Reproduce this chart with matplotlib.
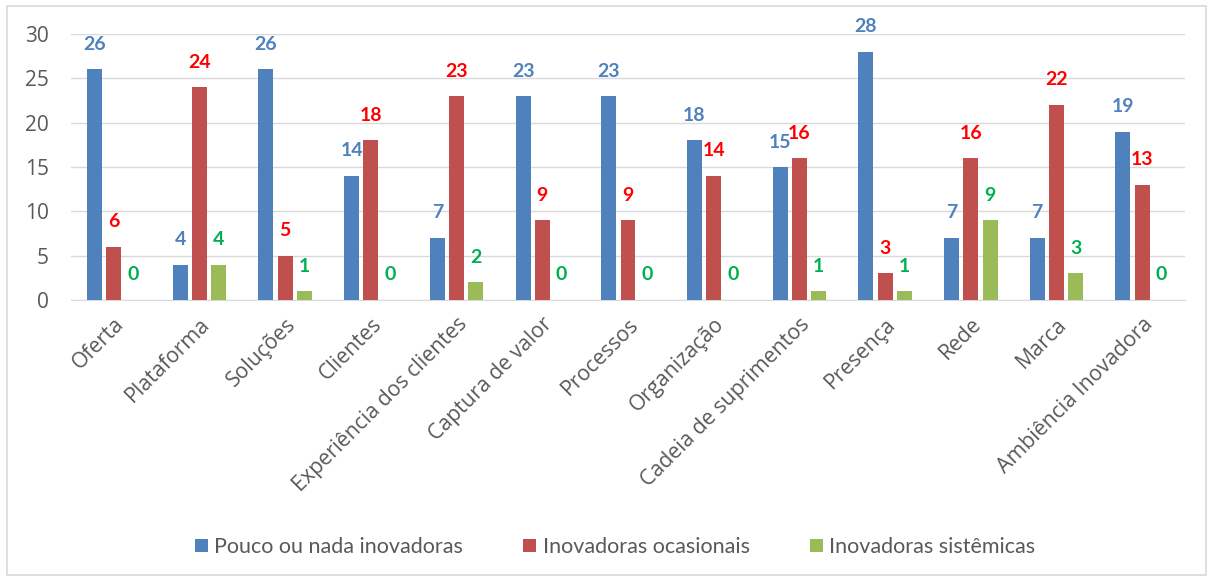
import matplotlib
matplotlib.use("Agg")
import matplotlib.pyplot as plt
import numpy as np
from matplotlib.patches import Rectangle

categories = ["Oferta", "Plataforma", "Soluções", "Clientes", "Experiência dos clientes",
              "Captura de valor", "Processos", "Organização", "Cadeia de suprimentos",
              "Presença", "Rede", "Marca", "Ambiência Inovadora"]
series_names = ["Pouco ou nada inovadoras", "Inovadoras ocasionais", "Inovadoras sistêmicas"]
pouco = [26, 4, 26, 14, 7, 23, 23, 18, 15, 28, 7, 7, 19]
ocasionais = [6, 24, 5, 18, 23, 9, 9, 14, 16, 3, 16, 22, 13]
sistemicas = [0, 4, 1, 0, 2, 0, 0, 0, 1, 1, 9, 3, 0]
yticks = [0, 5, 10, 15, 20, 25, 30]

bar_colors = ["#4F81BD", "#C0504D", "#9BBB59"]
label_colors = ["#4F81BD", "#FF0000", "#00B050"]

plt.rcParams['font.family'] = ['Open Sans', 'DejaVu Sans']

fig = plt.figure(figsize=(12.13, 5.81), dpi=100)
ax = fig.add_axes([71/1213, 1 - 300/581, (1185-71)/1213, (300-34)/581])

x = np.arange(len(categories))
w = 0.175
step = 0.225
for i, (vals, name) in enumerate(zip([pouco, ocasionais, sistemicas], series_names)):
    pos = x + (i - 1) * step
    ax.bar(pos, vals, width=w, color=bar_colors[i], label=name, zorder=3)
    for px, v in zip(pos, vals):
        ax.annotate(str(v), (px, v), xytext=(0, 18), textcoords="offset points",
                    ha="center", va="center", fontsize=14, fontweight="bold",
                    family=['Lato', 'DejaVu Sans'],
                    color=label_colors[i], annotation_clip=False, zorder=4)

ax.set_xlim(-0.5, len(categories) - 0.5)
ax.set_ylim(0, 30)
ax.set_yticks(yticks)
ax.set_yticklabels([str(t) for t in yticks], fontsize=15, color="#595959")
ax.set_xticks(x)
ax.set_xticklabels(categories, rotation=45, ha="right", rotation_mode="anchor",
                   fontsize=15.3, color="#595959")
ax.tick_params(axis="x", length=0, pad=10)
ax.tick_params(axis="y", length=0, pad=16)
ax.grid(axis="y", color="#D9D9D9", linewidth=1, zorder=0)
for s in ["top", "right", "left"]:
    ax.spines[s].set_visible(False)
ax.spines["bottom"].set_color("#D9D9D9")
ax.set_axisbelow(True)

leg = fig.legend(loc="center", bbox_to_anchor=(0.507, 1 - 547/581), ncol=3, frameon=False,
                 prop={'family': ['Lato', 'DejaVu Sans'], 'size': 15.5},
                 handlelength=0.6, handleheight=0.6, handletextpad=0.3,
                 columnspacing=2.8, labelcolor="#595959")

fig.patches.append(Rectangle((7/1213, 6/581), 1 - 14/1213, 1 - 12/581,
                             transform=fig.transFigure, fill=False,
                             edgecolor="#D9D9D9", linewidth=1.2))

fig.savefig("out.png", dpi=100)
